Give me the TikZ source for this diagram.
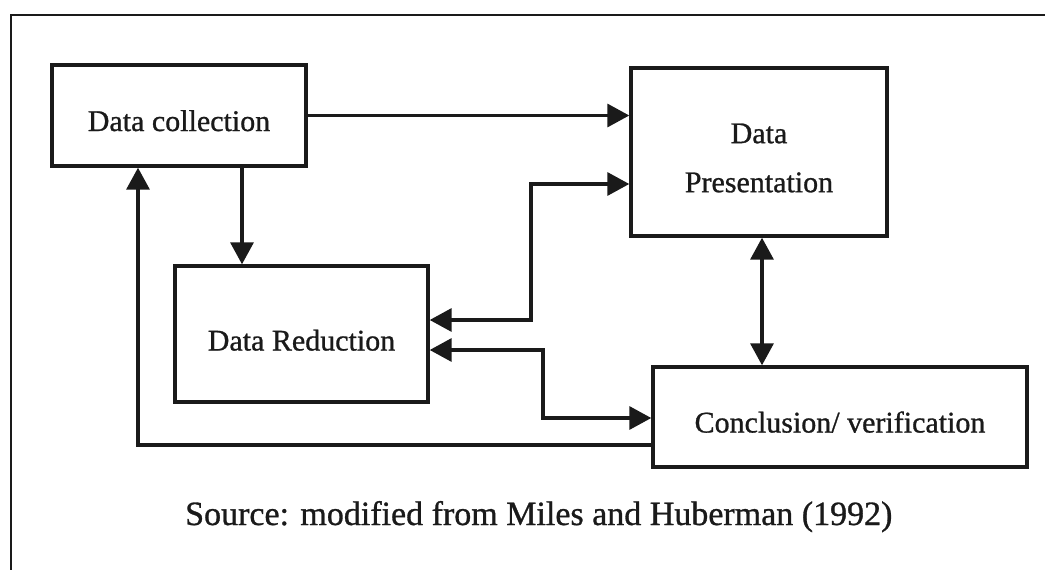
\documentclass[tikz,border=0pt]{standalone}
\usepackage{fontspec}
\setmainfont{Liberation Serif}[FakeBold=0.9]
\usetikzlibrary{arrows.meta}
\definecolor{ink}{HTML}{1A1A1A}
\begin{document}
\begin{tikzpicture}[x=1pt,y=-1pt,
  box/.style={draw=ink, line width=3.4pt, inner sep=0pt, text=ink,
    font=\fontsize{30}{49}\selectfont, text height=31pt, text depth=0pt},
  lbl/.style={inner sep=0pt, text=ink, font=\fontsize{30}{49}\selectfont},
  conn/.style={draw=ink, line width=3.4pt},
  arr/.style={conn, -{Triangle[length=22pt,width=23pt]}},
  dbl/.style={conn, {Triangle[length=22pt,width=23pt]}-{Triangle[length=22pt,width=23pt]}},
  frame/.style={draw=ink, line width=2pt}
]
\useasboundingbox (0,0) rectangle (1045,570);
\fill[white] (0,0) rectangle (1045,570);
% outer frame
\draw[frame] (1045,15) -- (11,15) -- (11,570);

% boxes
\node[box, minimum width=254pt, minimum height=101pt] (dc) at (179,115.5) {Data collection};
\node[box, minimum width=256pt, minimum height=168pt] (dp) at (759,152) {};
\node[lbl, align=center] (dptext) at (759,158) {Data\\Presentation};
\node[box, minimum width=253pt, minimum height=136pt, text height=33pt] (dr) at (301.5,334) {Data Reduction};
\node[box, minimum width=374pt, minimum height=100pt] (cv) at (840,417) {Conclusion/ verification};

% connectors
\draw[arr] (dc.east) -- (dc.east -| dp.west);
\draw[arr] (dc.south -| 242,0) -- (dr.north -| 242,0);
\draw[dbl] (dp.west |- 0,184) -| (531,320) -- (dr.east |- 0,320);
\draw[dbl] (dr.east |- 0,350) -| (543,418) -- (cv.west |- 0,418);
\draw[dbl] (dp.south -| 762,0) -- (cv.north -| 762,0);
\draw[arr] (cv.west |- 0,445) -| (dc.south -| 138,0);

% source
\node[inner sep=0pt, anchor=base west, text=ink, font=\fontsize{34}{40}\selectfont] (src) at (185,525) {Source: modified from Miles and Huberman (1992)};
\end{tikzpicture}
\end{document}
